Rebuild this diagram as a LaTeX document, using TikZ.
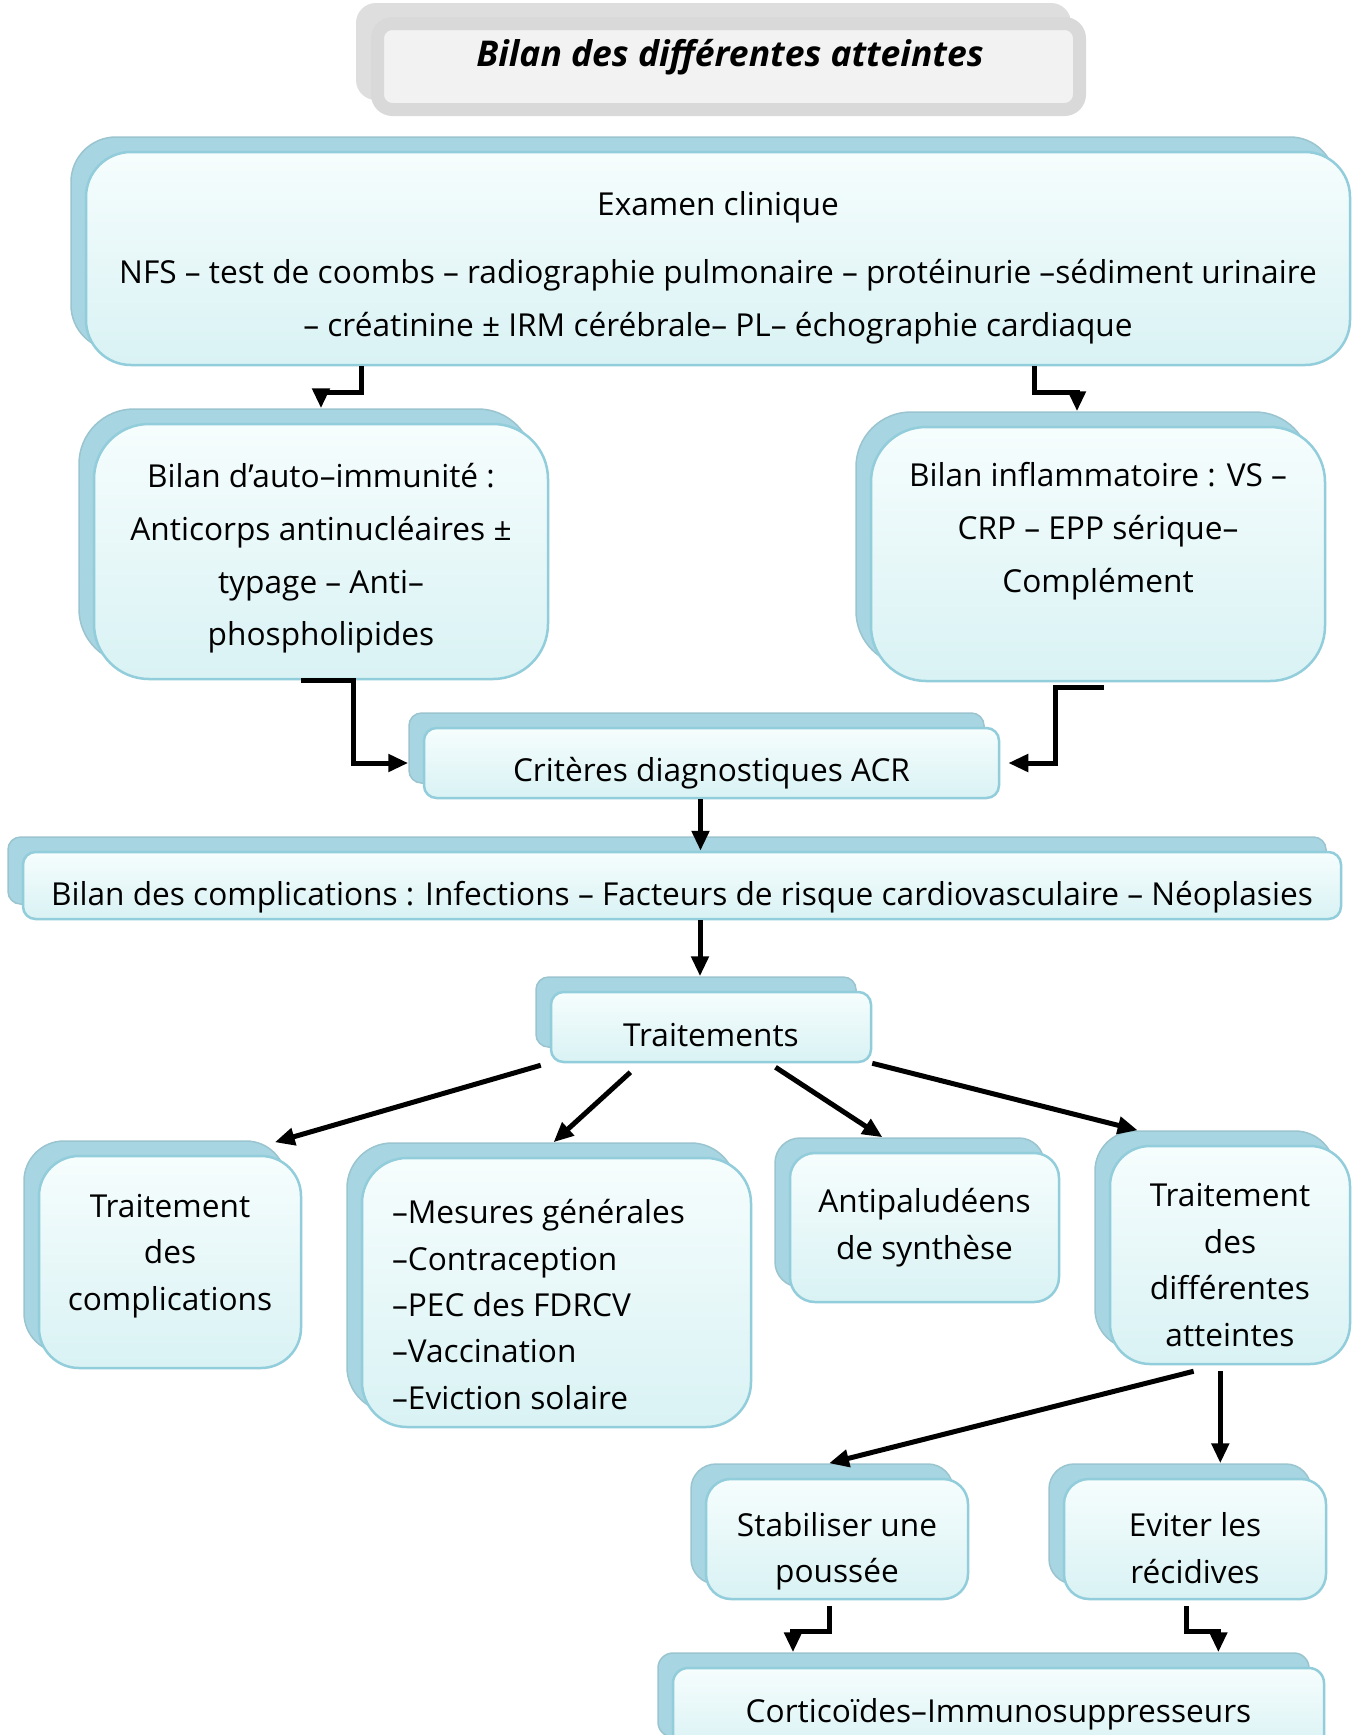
\documentclass[tikz,border=0pt]{standalone}
\usepackage{fontspec}
\setmainfont{Open Sans}
\usetikzlibrary{arrows.meta, calc, positioning}
\definecolor{boxback}{RGB}{167,213,225}
\definecolor{boxline}{RGB}{146,205,219}
\definecolor{boxtop}{RGB}{246,253,253}
\definecolor{boxlow}{RGB}{217,242,244}
\definecolor{titlegray}{RGB}{217,217,217}
\definecolor{titlefill}{RGB}{242,242,242}
\definecolor{titleshade}{RGB}{222,222,222}
\tikzset{
  boxsize/.style 2 args={minimum width=#1*0.2mm, minimum height=#2*0.2mm, inner sep=0pt},
  txt/.style={font=\fontsize{18}{30}\selectfont, align=center},
  txtb/.style={font=\fontsize{18}{26.4}\selectfont, align=center},
  back/.style={fill=boxback, draw=boxback!92!black, line width=0.3mm},
  front/.style={draw=boxline, line width=0.5mm, top color=boxtop, bottom color=boxlow},
  titleback/.style={fill=titleshade, rounded corners=4mm},
  titlefront/.style={fill=titlefill, draw=titlegray, line width=2.6mm, rounded corners=3mm},
  titletext/.style={font=\fontsize{20.2}{24}\selectfont\bfseries\itshape},
  arr/.style={-{Triangle[length=4mm,width=3.4mm]}, line width=1mm}
}
\begin{document}
\begin{tikzpicture}[x=0.2mm, y=-0.2mm]
  \useasboundingbox[fill=white] (0,0) rectangle (1353,1735);
  % titre
  \node[titleback, boxsize={715}{97}] (titb) at (713.5,51.5) {};
  \node[titlefront, boxsize={702}{86}] (titf) at (728.5,66.5) {};
  \node[titletext] (title) at (730,57) {Bilan des différentes atteintes};

  % examens de base
  \node[back, boxsize={1264}{213}, rounded corners=9mm] (exb) at (703,243.5) {};
  \node[front, boxsize={1264}{213}, rounded corners=9mm] (ex) at (718,258.5) {};
  \node[txt] (extxt) at ($(ex.center)+(0,9)$)
    {Examen clinique\\[3.2mm]NFS – test de coombs – radiographie pulmonaire – protéinurie –sédiment urinaire\\– créatinine ± IRM cérébrale– PL– échographie cardiaque};

  \node[back, boxsize={454}{255}, rounded corners=11mm] (autob) at (306,536.5) {};
  \node[front, boxsize={454}{255}, rounded corners=11mm] (auto) at (321,551.5) {};
  \node[txt] (autotxt) at ($(auto.center)+(0,7)$)
    {Bilan d’auto–immunité :\\Anticorps antinucléaires ±\\typage – Anti–\\phospholipides};

  \node[back, boxsize={454}{254}, rounded corners=11mm] (inflb) at (1083,539) {};
  \node[front, boxsize={454}{254}, rounded corners=11mm] (infl) at (1098,554) {};
  \node[txt] (infltxt) at ($(infl.center)+(0,-23)$)
    {Bilan inflammatoire : VS –\\CRP – EPP sérique–\\Complément};

  \node[back, boxsize={575}{70}, rounded corners=2.5mm] (critb) at (696.5,748) {};
  \node[front, boxsize={575}{70}, rounded corners=2.5mm] (crit) at (711.5,763) {};
  \node[txt] (crittxt) at ($(crit.center)+(0,10)$) {Critères diagnostiques ACR};

  \node[back, boxsize={1318}{67}, rounded corners=2.5mm] (complb) at (667,870.5) {};
  \node[front, boxsize={1318}{67}, rounded corners=2.5mm] (compl) at (682,885.5) {};
  \node[txt] (compltxt) at ($(compl.center)+(0,12)$)
    {Bilan des complications : Infections – Facteurs de risque cardiovasculaire – Néoplasies};

  \node[back, boxsize={320}{70}, rounded corners=2.5mm] (traitb) at (696,1012) {};
  \node[front, boxsize={320}{70}, rounded corners=2.5mm] (trait) at (711,1027) {};
  \node[txt] (traittxt) at ($(trait.center)+(0,8)$) {Traitements};

  % traitements
  \node[back, boxsize={262}{212}, rounded corners=8mm] (tcb) at (155,1247) {};
  \node[front, boxsize={262}{212}, rounded corners=8mm] (tc) at (170,1262) {};
  \node[txtb] (tctxt) at ($(tc.center)+(0,-6)$) {Traitement\\des\\complications};

  \node[back, boxsize={389}{269}, rounded corners=9mm] (mesb) at (541.5,1277.5) {};
  \node[front, boxsize={389}{269}, rounded corners=9mm] (mes) at (556.5,1292.5) {};
  \node[txtb, align=left, anchor=west, inner sep=0pt] (mestxt) at ($(mes.west)+(31,12)$)
    {–Mesures générales\\–Contraception\\–PEC des FDRCV\\–Vaccination\\–Eviction solaire};

  \node[back, boxsize={269}{149}, rounded corners=5mm] (antib) at (909.5,1212.5) {};
  \node[front, boxsize={269}{149}, rounded corners=5mm] (anti) at (924.5,1227.5) {};
  \node[txtb] (antitxt) at (anti.center) {Antipaludéens\\de synthèse};

  \node[back, boxsize={240}{218}, rounded corners=8mm] (tdab) at (1215,1240) {};
  \node[front, boxsize={240}{218}, rounded corners=8mm] (tda) at (1230,1255) {};
  \node[txtb] (tdatxt) at ($(tda.center)+(0,10)$) {Traitement\\des\\différentes\\atteintes};

  \node[back, boxsize={262}{120}, rounded corners=5mm] (stabb) at (822,1524) {};
  \node[front, boxsize={262}{120}, rounded corners=5mm] (stab) at (837,1539) {};
  \node[txtb] (stabtxt) at ($(stab.center)+(0,12)$) {Stabiliser une\\poussée};

  \node[back, boxsize={262}{120}, rounded corners=5mm] (evitb) at (1180,1524) {};
  \node[front, boxsize={262}{120}, rounded corners=5mm] (evit) at (1195,1539) {};
  \node[txtb] (evittxt) at ($(evit.center)+(0,9)$) {Eviter les\\récidives};

  \node[back, boxsize={651}{84}, rounded corners=3mm] (cortb) at (983.5,1695) {};
  \node[front, boxsize={651}{84}, rounded corners=3mm] (cort) at (998.5,1710) {};
  \node[txt] (corttxt) at ($(cort.center)+(0,4)$) {Corticoïdes–Immunosuppresseurs};

  % fleches
  \draw[arr] ($(ex.south)+(-357,0)$) -- ++(0,26) -| (auto.north |- autob.north);
  \draw[arr] ($(ex.south)+(316,0)$) -- ++(0,26) -| ($(inflb.north)+(-6,0)$);
  \draw[arr] ($(auto.south)+(-20,0)$) -- ++(52,0) |- (crit.west -| critb.west);
  \draw[arr] ($(infl.south)+(6,5)$) -- ++(-49,0) |- ($(crit.east)+(8,0)$);
  \draw[arr] ($(crit.south -| critb.south)+(4,0)$) -- ($(critb.south |- compl.north)+(4,0)$);
  \draw[arr] ($(compl.south -| traitb.north)+(4,0)$) -- ($(traitb.north)+(4,0)$);
  \draw[arr] ($(trait.south west)+(-9,2)$) -- ($(tcb.north east)+(-12,2)$);
  \draw[arr] ($(trait.south west)!0.25!(trait.south east)+(0,9)$) -- ($(mesb.north)+(12,0)$);
  \draw[arr] ($(trait.south west)!0.7!(trait.south east)+(0,4)$) -- ($(antib.north west)!0.4!(antib.north east)$);
  \draw[arr] (trait.south east) -- ($(tdab.north west)!0.18!(tdab.north east)$);
  \draw[arr] ($(tda.south west)!0.35!(tda.south east)+(0,6)$) -- ($(stabb.north)+(7,0)$);
  \coordinate (tdadown) at ($(tda.south west)!0.46!(tda.south east)+(0,6)$);
  \draw[arr] (tdadown) -- (tdadown |- evitb.north);
  \draw[arr] ($(stab.south)+(-8,6)$) -- ++(0,25) -| ($(cortb.north west)!0.208!(cortb.north east)$);
  \draw[arr] ($(evit.south)+(-9,6)$) -- ++(0,25) -| ($(cortb.north west)!0.86!(cortb.north east)$);
\end{tikzpicture}
\end{document}
